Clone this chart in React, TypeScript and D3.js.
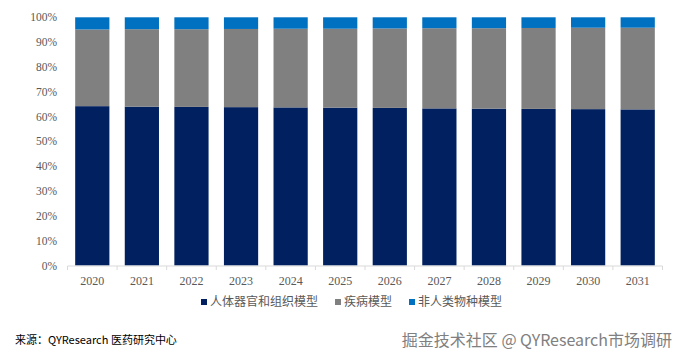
import React from "react";
import * as d3 from "d3";

const years = ["2020","2021","2022","2023","2024","2025","2026","2027","2028","2029","2030","2031"];
const organModel = [64.2, 64.0, 63.9, 63.8, 63.7, 63.6, 63.5, 63.3, 63.2, 63.1, 63.0, 62.9];
const diseaseModel = [30.9, 31.2, 31.3, 31.5, 31.7, 31.8, 32.0, 32.3, 32.4, 32.6, 32.8, 32.9];
const nonHumanModel = organModel.map((v, i) => +(100 - v - diseaseModel[i]).toFixed(1));
const seriesNames = ["人体器官和组织模型", "疾病模型", "非人类物种模型"];
const seriesColors = ["#002060", "#808080", "#0070C0"];
const yTicks = [0, 10, 20, 30, 40, 50, 60, 70, 80, 90, 100];

export default function App() {
  const W = 680, H = 358;
  const x = d3.scaleBand<string>().domain(years).range([67.5, 662.5]).paddingInner(0.31).paddingOuter(0.155);
  const y = d3.scaleLinear().domain([0, 100]).range([265.5, 17.3]);
  const rows = years.map((yr, i) => ({ yr, a: organModel[i], b: diseaseModel[i], c: nonHumanModel[i] }));
  const stack = d3.stack<any>().keys(["a", "b", "c"])(rows);
  const serif = "'Liberation Serif', 'DejaVu Serif', serif";
  const legendX = [201, 335, 409];
  return (
    <svg width={W} height={H} style={{ position: "absolute", left: 0, top: 0, background: "#fff" }}>
      <rect width={W} height={H} fill="#fff" />
      {yTicks.map(t => (
        <text key={t} x={57} y={y(t)} dy="0.35em" textAnchor="end" fontFamily={serif} fontSize={11.5} fill="#595959">{t}%</text>
      ))}
      {stack.map((s, si) => (
        <g key={si} fill={seriesColors[si]}>
          {s.map((d: any, i) => (
            <rect key={i} x={x(years[i])} width={x.bandwidth()} y={y(d[1])} height={y(d[0]) - y(d[1])} />
          ))}
        </g>
      ))}
      <line x1={67.5} x2={662.5} y1={266} y2={266} stroke="#d9d9d9" strokeWidth={1} />
      {d3.range(years.length + 1).map(i => {
        const xx = 67.5 + i * x.step();
        return <line key={i} x1={xx} x2={xx} y1={266} y2={270} stroke="#d9d9d9" />;
      })}
      {years.map(yr => (
        <text key={yr} x={(x(yr) as number) + x.bandwidth() / 2} y={285} textAnchor="middle" fontFamily={serif} fontSize={12} fill="#595959">{yr}</text>
      ))}
      {seriesNames.map((n, i) => (
        <g key={n}>
          <rect x={legendX[i]} y={299} width={6} height={6} fill={seriesColors[i]} />
          <text x={legendX[i] + 9} y={302} dy="0.35em" fontFamily="'Noto Sans CJK SC', sans-serif" fontSize={12} fill="#595959">{n}</text>
        </g>
      ))}
      <text x={15} y={344} fontFamily="'Noto Sans CJK SC', sans-serif" fontSize={11} fill="#000">来源：QYResearch 医药研究中心</text>
      <text x={672} y={346} textAnchor="end" fontFamily="'Noto Sans CJK SC', sans-serif" fontSize={16} fill="#808080">掘金技术社区 @ QYResearch市场调研</text>
    </svg>
  );
}
